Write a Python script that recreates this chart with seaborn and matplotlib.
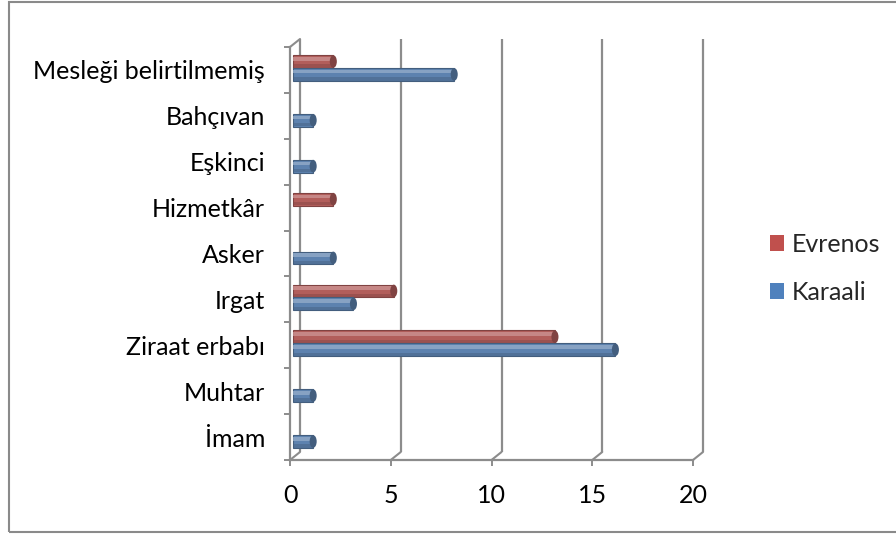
import numpy as np
import pandas as pd
import matplotlib
matplotlib.use("Agg")
import matplotlib.pyplot as plt
import matplotlib.transforms as mtransforms
from matplotlib.patches import Patch, Ellipse, Rectangle
from matplotlib.lines import Line2D
import seaborn as sns

# Occupations, listed top to bottom
categories = ["Mesleği belirtilmemiş", "Bahçıvan", "Eşkinci", "Hizmetkâr",
              "Asker", "Irgat", "Ziraat erbabı", "Muhtar", "İmam"]
evrenos = [2, 0, 0, 2, 0, 5, 13, 0, 0]
karaali = [8, 1, 1, 0, 2, 3, 16, 1, 1]
series_names = ["Evrenos", "Karaali"]
x_ticks = [0, 5, 10, 15, 20]

RED = "#C0504D"
BLUE = "#4F81BD"
GRID = "#8C8C8C"
FS = 18

df = pd.DataFrame({
    "Meslek": categories * 2,
    "Sayı": evrenos + karaali,
    "Köy": [series_names[0]] * len(categories) + [series_names[1]] * len(categories),
})

sns.set_theme(style="white")
plt.rcParams["font.family"] = ["Lato", "DejaVu Sans"]

W, H, DPI = 896, 534, 100
fig = plt.figure(figsize=(W / DPI, H / DPI), dpi=DPI)
ax = fig.add_axes([290 / W, (H - 460) / H, 403 / W, 413 / H])

sns.barplot(data=df, y="Meslek", x="Sayı", hue="Köy", order=categories,
            hue_order=series_names, palette=[RED, BLUE], orient="h",
            width=0.56, ax=ax, legend=False, zorder=3)

ax.set_xlim(0, 20)
ax.set_ylim(len(categories) - 0.5, -0.5)

def px_shift(dx, dy):
    return mtransforms.ScaledTranslation(dx / DPI, dy / DPI, fig.dpi_scale_trans)

xax = ax.get_xaxis_transform()
back_x = xax + px_shift(10, 8)
line_kw = dict(color=GRID, lw=1.6, clip_on=False, solid_capstyle="butt")

# back wall gridlines
for xv in x_ticks:
    ax.add_line(Line2D([xv, xv], [0, 1], transform=back_x, zorder=1, **line_kw))

def diagonal(x, y):
    ax.annotate("", xy=(x, y), xycoords=back_x, xytext=(x, y), textcoords=xax,
                arrowprops=dict(arrowstyle="-", color=GRID, lw=1.5,
                                shrinkA=0, shrinkB=0))

# floor diagonals under each tick and the top corner of the side wall
for xv in x_ticks:
    diagonal(xv, 0)
diagonal(0, 1)

# front axis lines
for side in ["top", "right"]:
    ax.spines[side].set_visible(False)
for side in ["left", "bottom"]:
    ax.spines[side].set_visible(True)
    ax.spines[side].set_color(GRID)
    ax.spines[side].set_linewidth(1.6)
    ax.spines[side].set_zorder(6)

# bars sit slightly into the depth; add cylinder shading and end caps
shift = px_shift(3, 2)
for p in list(ax.patches):
    w = p.get_width()
    if w <= 0:
        p.set_visible(False)
        continue
    p.set_transform(ax.transData + shift)
    fc = p.get_facecolor()
    dark = tuple(np.array(fc[:3]) * 0.72)
    light = tuple(np.array(fc[:3]) + (1 - np.array(fc[:3])) * 0.35)
    p.set_edgecolor(dark)
    p.set_linewidth(0.8)
    y0, h = p.get_y(), p.get_height()
    # highlight stripe along the upper part of the cylinder
    ax.add_patch(Rectangle((0, y0 + h * 0.15), w, h * 0.28, facecolor=light,
                           edgecolor="none", alpha=0.75,
                           transform=ax.transData + shift, zorder=4))
    # lower shade
    ax.add_patch(Rectangle((0, y0 + h * 0.72), w, h * 0.26, facecolor=dark,
                           edgecolor="none", alpha=0.45,
                           transform=ax.transData + shift, zorder=4))
    ax.add_patch(Ellipse((w, y0 + h / 2), 0.35, h * 0.98, facecolor=dark,
                         edgecolor="none", transform=ax.transData + shift,
                         zorder=5))

ax.set_xticks(x_ticks)
ax.set_xticklabels([str(v) for v in x_ticks])
ax.set_yticks(range(len(categories)))
ax.set_yticklabels(categories)
ax.set_yticks(np.arange(-0.5, len(categories), 1), minor=True)
ax.tick_params(axis="y", which="major", length=0, pad=18, labelsize=FS,
               labelcolor="#000000")
ax.tick_params(axis="y", which="minor", length=4, width=1.4, color=GRID, left=True)
ax.tick_params(axis="x", which="major", length=4, width=1.4, color=GRID,
               pad=13, labelsize=FS, labelcolor="#000000", bottom=True)
ax.set_xlabel("")
ax.set_ylabel("")
ax.grid(False)

handles = [Patch(facecolor=RED, edgecolor="none"), Patch(facecolor=BLUE, edgecolor="none")]
fig.legend(handles, series_names, loc="center left",
           bbox_to_anchor=(770 / W, 1 - 268 / H), frameon=False,
           fontsize=FS, handlelength=0.55, handleheight=0.6,
           handletextpad=0.32, labelspacing=1.0,
           borderpad=0, borderaxespad=0)

# chart border
fig.add_artist(Rectangle((9 / W, 2 / H), 1.2, 530 / H, transform=fig.transFigure,
                         facecolor="none", edgecolor="#8A8A8A", lw=1.5))

fig.savefig("out.png", dpi=DPI, facecolor="white")
